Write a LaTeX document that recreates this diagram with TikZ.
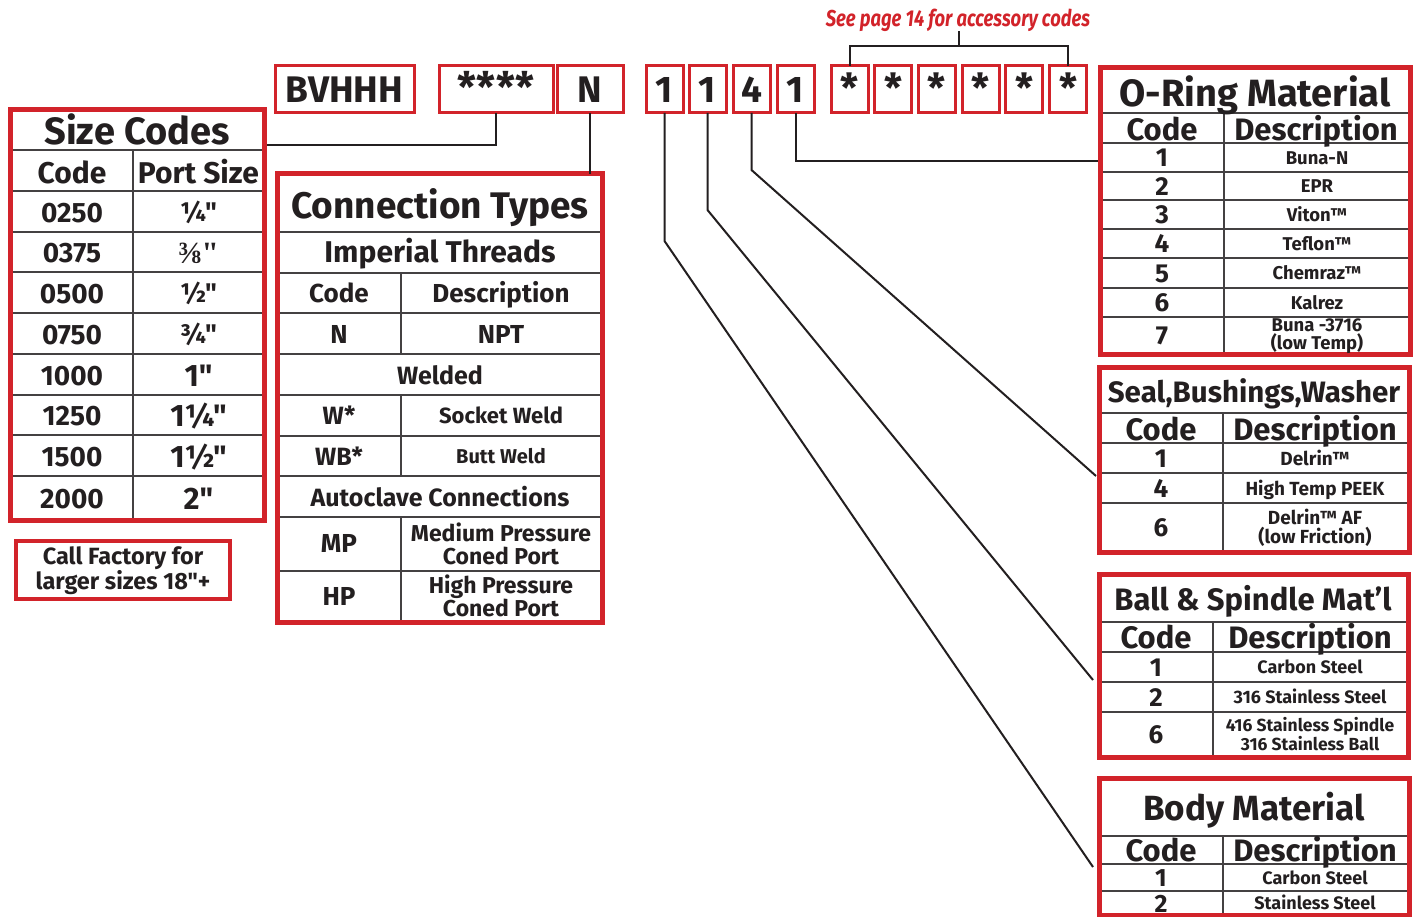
\documentclass[tikz,border=0pt]{standalone}
\usepackage{fontspec}
\setmainfont{Fira Sans}[Ligatures=TeXOff]
\newfontfamily\notefont{Fira Sans}[FakeStretch=0.8]
\newfontfamily\fracfont{Liberation Serif}
\usetikzlibrary{positioning}
\definecolor{codered}{HTML}{D2232A}
\definecolor{ink}{HTML}{231F20}
\newcommand\fsz[1]{\fontsize{#1}{#1}\selectfont}
\tikzset{
  codebox/.style={draw=codered, line width=3pt, outer sep=0pt, minimum height=47pt, inner sep=0pt, text=ink, font=\bfseries\fsz{37}, text height=25.5pt, text depth=0pt},
  starbox/.style={codebox, minimum width=37pt, font=\bfseries\fsz{40}},
  tablebox/.style={draw=codered, line width=5pt, inner sep=0pt, outer sep=0pt, anchor=north west},
  rule/.style={line width=1.3pt, ink!85},
  leader/.style={line width=2pt, ink},
  cell/.style={inner sep=0pt, text=ink, align=center, font=\bfseries\fsz{#1}, anchor=base, yshift={-0.345*#1}},
  cellm/.style={inner sep=0pt, text=ink, align=center, font=\bfseries\fsz{#1}},
}
\begin{document}
\begin{tikzpicture}[x=1pt,y=-1pt]
\useasboundingbox (0,0) rectangle (1418,917);

% model code boxes
\node[codebox, minimum width=139pt] (model) at (344.5,89.5) {BVHHH};
\node[codebox, minimum width=114pt, font=\bfseries\fsz{42}] (sizeq) at (496,89.5) {****};
\node[codebox, minimum width=66pt] (conq) at (590,89.5) {N};
\node[codebox, minimum width=37pt] (d1) at (664.5,89.5) {1};
\node[codebox, minimum width=37pt, right=6pt of d1] (d2) {1};
\node[codebox, minimum width=37pt, right=7pt of d2] (d3) {4};
\node[codebox, minimum width=37pt, right=7pt of d3] (d4) {1};
\node[starbox] (st1) at (849.5,89.5) {*};
\foreach \i [remember=\i as \j (initially 1)] in {2,...,6}
  \node[starbox, right=6.7pt of st\j] (st\i) {*};

% accessory note
\node[inner sep=0pt, text=codered, font=\notefont\bfseries\itshape\fsz{23}] (note) at (958,20) {See page 14 for accessory codes};
\coordinate (brk) at (958.5,46);
\draw[leader] (st1.north) |- (brk) -| (st6.north);
\draw[leader] (brk) -- (brk |- note.south);

% size codes
\foreach \y in {150,191,232,272,313,354,395,435,476} \draw[rule] (10,\y) -- (264,\y);
\draw[rule] (133,150) -- (133,520);
\node[tablebox, minimum width=254pt, minimum height=410pt] (sizes) at (10,110) {};
\node[cell=38] (sztitle) at (137,131) {Size Codes};
\node[cell=30] (szcode) at (72,173) {Code};
\node[cell=30] (szport) at (198.5,173) {Port Size};
\foreach \c/\y [count=\i] in {0250/212.5,0375/253,0500/293.5,0750/334.5,1000/375.5,1250/416,1500/456.5,2000/499}
  \node[cell=28] (szc\i) at (72,\y) {\c};
\node[cell=27] (ps1) at (198.5,212.5) {¼"};
\node[cell=31] (ps2) at (198.5,253) {\fracfont ⅜"};
\node[cell=27] (ps3) at (198.5,293.5) {½"};
\node[cell=27] (ps4) at (198.5,334.5) {¾"};
\node[cell=31] (ps5) at (198.5,375.5) {1"};
\node[cell=31] (ps6) at (198.5,416) {1¼"};
\node[cell=31] (ps7) at (198.5,456.5) {1½"};
\node[cell=31] (ps8) at (198.5,499) {2"};

\node[tablebox, line width=4pt, minimum width=214pt, minimum height=58pt] (callbox) at (16,541) {};
\node[cellm=23.5] (call) at (123,571) {Call Factory for\\larger sizes 18"+};

% connection types
\foreach \y in {232,273,313,354,395,436,476,517,571} \draw[rule] (277.5,\y) -- (602.5,\y);
\draw[rule] (401,273) -- (401,354) (401,395) -- (401,476) (401,517) -- (401,622);
\node[tablebox, minimum width=325pt, minimum height=448pt] (conn) at (277.5,174) {};
\node[cell=37] (cttitle) at (440,206) {Connection Types};
\node[cell=30] (ctimp) at (440,252.5) {Imperial Threads};
\node[cell=26] (ctcode) at (339,294) {Code};
\node[cell=26] (ctdesc) at (501,294) {Description};
\node[cell=26] (ctn) at (339,335) {N};
\node[cell=26] (ctnpt) at (501,335) {NPT};
\node[cell=25] (ctweld) at (440,375.5) {Welded};
\node[cell=25] (ctw) at (339,416) {W*};
\node[cell=22] (ctsock) at (501,416) {Socket Weld};
\node[cell=25] (ctwb) at (339,456.5) {WB*};
\node[cell=20] (ctbutt) at (501,456.5) {Butt Weld};
\node[cell=25] (ctauto) at (440,497.5) {Autoclave Connections};
\node[cell=26] (ctmp) at (339,544) {MP};
\node[cellm=23] (ctmpd) at (501,544) {Medium Pressure\\Coned Port};
\node[cell=26] (cthp) at (339,597) {HP};
\node[cellm=23] (cthpd) at (501,596) {High Pressure\\Coned Port};

% o-ring material
\foreach \y in {113,143,172,200,229,258,288,317} \draw[rule] (1100,\y) -- (1410,\y);
\draw[rule] (1224,113) -- (1224,354);
\node[tablebox, minimum width=310pt, minimum height=286.5pt] (oring) at (1100,67.5) {};
\node[cell=38] (ortitle) at (1255,93.5) {O-Ring Material};
\node[cell=31] (orcode) at (1162,130) {Code};
\node[cell=31] (ordesc) at (1316,130) {Description};
\foreach \c/\d/\y [count=\i] in {1/Buna-N/158,2/EPR/186.5,3/Viton™/215,4/Teflon™/244,5/Chemraz™/273.5,6/Kalrez/303} {
  \node[cell=26] (orc\i) at (1162,\y) {\c};
  \node[cell=18.5] (ord\i) at (1317,\y) {\d};
}
\node[cell=26] (orc7) at (1162,336) {7};
\node[cellm=18.5] (ord7) at (1317,336) {Buna -3716\\(low Temp)};

% seal, bushings, washer
\foreach \y in {413,443,473,503} \draw[rule] (1099,\y) -- (1409,\y);
\draw[rule] (1223,413) -- (1223,552);
\node[tablebox, minimum width=310pt, minimum height=185pt] (seal) at (1099,367) {};
\node[cell=29.5] (setitle) at (1254,392) {Seal,Bushings,Washer};
\node[cell=31] (secode) at (1161,430) {Code};
\node[cell=31] (sedesc) at (1315,430) {Description};
\foreach \c/\d/\y [count=\i] in {1/Delrin™/458.5,4/High Temp PEEK/488.5} {
  \node[cell=26] (sec\i) at (1161,\y) {\c};
  \node[cell=19] (sed\i) at (1315,\y) {\d};
}
\node[cell=26] (sec3) at (1161,528) {6};
\node[cellm=19] (sed3) at (1315,527.5) {Delrin™ AF\\(low Friction)};

% ball and spindle
\foreach \y in {622,652,682,712} \draw[rule] (1099,\y) -- (1408,\y);
\draw[rule] (1213,622) -- (1213,757);
\node[tablebox, minimum width=309pt, minimum height=183pt] (ball) at (1099,574) {};
\node[cell=31] (batitle) at (1253,600) {Ball \& Spindle Mat’l};
\node[cell=31] (bacode) at (1156,638) {Code};
\node[cell=31] (badesc) at (1310,638) {Description};
\foreach \c/\d/\y [count=\i] in {1/Carbon Steel/667.5,2/316 Stainless Steel/697.5} {
  \node[cell=26] (bac\i) at (1156,\y) {\c};
  \node[cell=18] (bad\i) at (1310,\y) {\d};
}
\node[cell=26] (bac3) at (1156,735) {6};
\node[cellm=17.5] (bad3) at (1310,734.5) {416 Stainless Spindle\\316 Stainless Ball};

% body material
\foreach \y in {836,864,891} \draw[rule] (1099,\y) -- (1409,\y);
\draw[rule] (1223,836) -- (1223,915);
\node[tablebox, minimum width=310pt, minimum height=137pt] (body) at (1099,778) {};
\node[cell=35] (botitle) at (1254,808.5) {Body Material};
\node[cell=31] (bocode) at (1161,851) {Code};
\node[cell=31] (bodesc) at (1315,851) {Description};
\foreach \c/\d/\y [count=\i] in {1/Carbon Steel/878,2/Stainless Steel/903.5} {
  \node[cell=25] (boc\i) at (1161,\y) {\c};
  \node[cell=18] (bod\i) at (1315,\y) {\d};
}

% leaders
\coordinate (szin) at (266.5,145);
\draw[leader] (sizeq.south) |- (szin);
\draw[leader] (conq.south) -- (conq.south |- conn.north);
\coordinate (orin) at (1097.5,161);
\draw[leader] (d4.south) |- (orin);
\coordinate (sealin) at (1096,476);
\draw[leader] (d3.south) -- ++(0,57) -- (sealin);
\coordinate (ballin) at (1093,680);
\draw[leader] (d2.south) -- ++(0,97) -- (ballin);
\coordinate (bodyin) at (1093,867);
\draw[leader] (d1.south) -- ++(0,128) -- (bodyin);
\end{tikzpicture}
\end{document}
